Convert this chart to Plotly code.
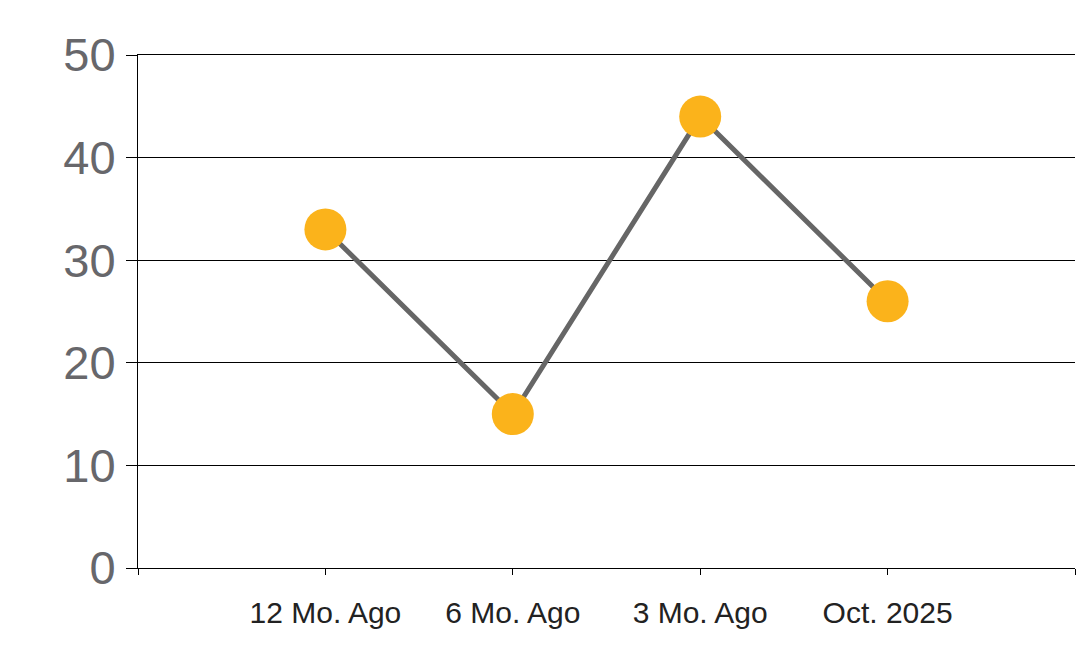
import plotly.graph_objects as go

categories = ["12 Mo. Ago", "6 Mo. Ago", "3 Mo. Ago", "Oct. 2025"]
values = [33, 15, 44, 26]
y_ticks = [0, 10, 20, 30, 40, 50]

x_pos = list(range(1, len(categories) + 1))
x_tickvals = list(range(0, len(categories) + 2))
x_ticktext = [""] + categories + [""]

fig = go.Figure()
fig.add_trace(go.Scatter(
    x=x_pos, y=values, mode="lines+markers",
    line=dict(color="#666666", width=5),
    marker=dict(size=42, color="#FBB31B", line=dict(width=0)),
    hoverinfo="skip",
))

fig.update_layout(
    width=1078, height=663,
    margin=dict(l=138, r=3, t=55, b=95),
    paper_bgcolor="white", plot_bgcolor="white",
    showlegend=False,
    font=dict(family="Liberation Sans, Arial, sans-serif"),
)
fig.update_xaxes(
    range=[0, len(categories) + 1],
    tickvals=x_tickvals, ticktext=x_ticktext,
    ticks="outside", ticklen=6, tickcolor="black", tickwidth=1,
    showline=True, linecolor="black", linewidth=1, mirror=True,
    showgrid=False, zeroline=False,
    tickfont=dict(size=30, color="#222222"),
    ticklabelstandoff=12,
)
fig.update_yaxes(
    range=[0, 50], tickvals=y_ticks,
    ticks="outside", ticklen=11, tickcolor="black", tickwidth=1,
    showline=True, linecolor="black", linewidth=1,
    showgrid=True, gridcolor="black", gridwidth=1,
    zeroline=False,
    tickfont=dict(size=47, color="#67676B"),
    ticklabelstandoff=1,
)

fig.write_html(
    "out.html",
    config={"displayModeBar": False, "staticPlot": True},
    post_script="document.body.style.margin='0';document.body.style.overflow='hidden';",
)
